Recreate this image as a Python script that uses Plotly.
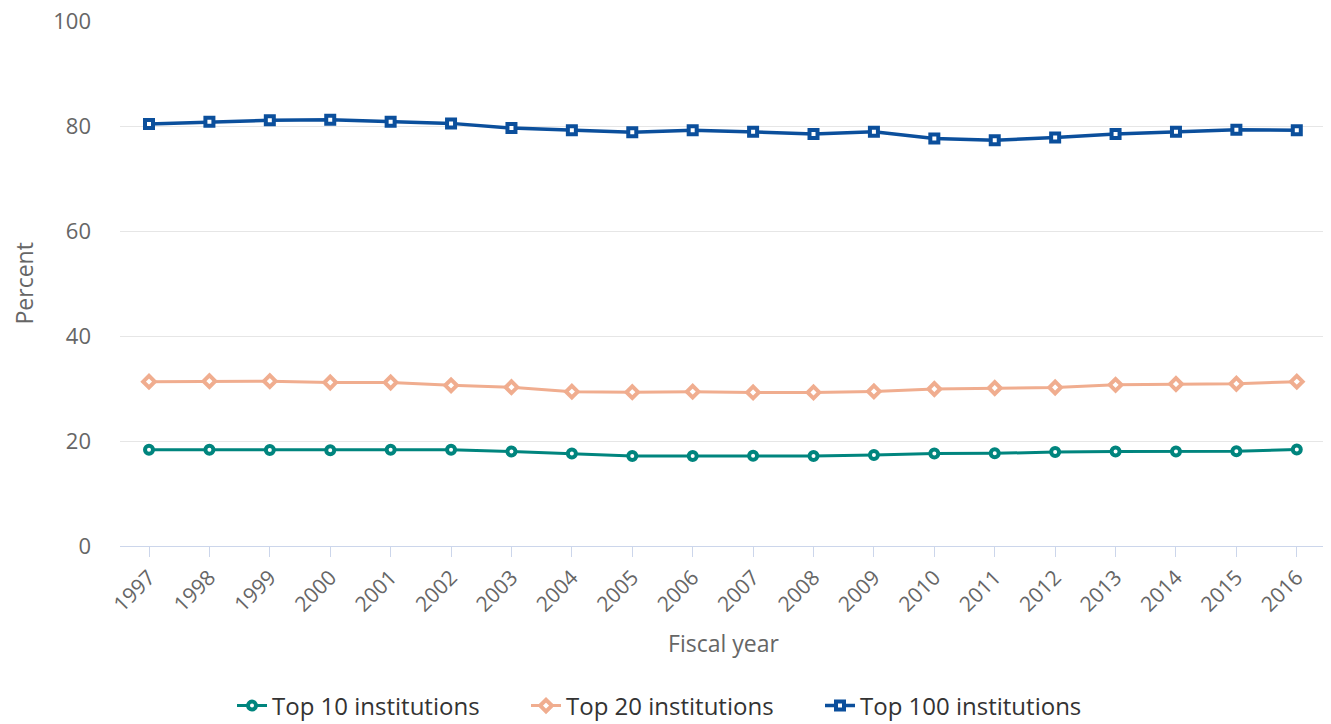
import plotly.graph_objects as go

years = [str(y) for y in range(1997, 2017)]
top10 = [18.35, 18.35, 18.3, 18.25, 18.35, 18.35, 18.0, 17.6, 17.15, 17.15,
         17.2, 17.15, 17.35, 17.6, 17.65, 17.9, 18.0, 18.0, 18.05, 18.4]
top20 = [31.3, 31.4, 31.4, 31.15, 31.15, 30.6, 30.25, 29.4, 29.3, 29.4,
         29.25, 29.25, 29.45, 29.9, 30.1, 30.2, 30.7, 30.85, 30.9, 31.3]
top100 = [80.4, 80.8, 81.1, 81.2, 80.8, 80.5, 79.6, 79.2, 78.8, 79.2,
          78.9, 78.5, 78.9, 77.6, 77.3, 77.8, 78.5, 78.9, 79.3, 79.2]

names = ["Top 10 institutions", "Top 20 institutions", "Top 100 institutions"]
colors = ["#00857e", "#f0ad8f", "#0b4f9c"]
symbols = ["circle", "diamond", "square"]
sizes = [8, 9, 8]
widths = [3, 3, 3.5]

FONT = "Open Sans"
fig = go.Figure()
for name, vals, col, sym, sz, lw in zip(names, [top10, top20, top100], colors, symbols, sizes, widths):
    fig.add_trace(go.Scatter(
        x=years, y=vals, name=name, mode="lines+markers",
        line=dict(color=col, width=lw),
        marker=dict(symbol=sym, size=sz, color="white", line=dict(color=col, width=4)),
    ))

# the page body has an 8px margin, so the figure is offset by 8px
fig.update_layout(
    width=1323, height=724,
    margin=dict(l=112, r=4, t=13, b=186),
    paper_bgcolor="white", plot_bgcolor="white",
    font=dict(family=FONT, color="#666666", size=22),
    showlegend=True,
    legend=dict(orientation="h", x=0.0928, xanchor="left", y=-0.3048, yanchor="middle",
                font=dict(size=24, color="#333333"), itemwidth=30,
                entrywidth=249, entrywidthmode="pixels"),
    xaxis=dict(
        type="category", range=[-0.48, 19.5], automargin=False,
        showgrid=False, showline=True, linecolor="#ccd6eb", linewidth=1,
        ticks="outside", ticklen=10, tickcolor="#ccd6eb", tickwidth=1,
        tickangle=-45, tickfont=dict(size=21, color="#666666"),
        title=dict(text="Fiscal year", font=dict(size=23, color="#666666"), standoff=19),
    ),
    yaxis=dict(
        range=[0, 100], dtick=20, showgrid=True, gridcolor="#e6e6e6", gridwidth=1,
        zeroline=False, showline=False, ticks="", automargin=False,
        ticklabeloverflow="allow",
        tickfont=dict(size=22, color="#666666"), ticklabelstandoff=28,
    ),
    annotations=[dict(
        text="Percent", textangle=-90, showarrow=False,
        xref="paper", yref="paper", x=-(112 - 15) / 1207, y=0.5,
        xanchor="center", yanchor="middle",
        font=dict(size=23, color="#666666", family=FONT),
    )],
)

fig.write_html("out.html")
